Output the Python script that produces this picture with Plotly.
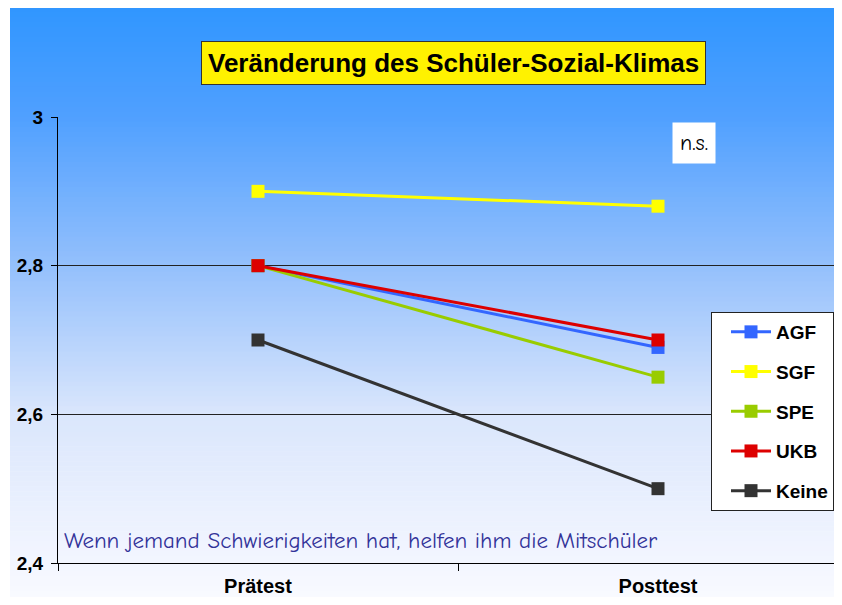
import plotly.graph_objects as go

categories = ["Prätest", "Posttest"]
series_names = ["AGF", "SGF", "SPE", "UKB", "Keine"]
agf = [2.80, 2.69]
sgf = [2.90, 2.88]
spe = [2.80, 2.65]
ukb = [2.80, 2.70]
keine = [2.70, 2.50]
y_ticks = [2.4, 2.6, 2.8, 3.0]

values = [agf, sgf, spe, ukb, keine]
colors = ["#3366FF", "#FFFF00", "#99CC00", "#DD0000", "#333333"]

# page body has an 8px margin; figure sized so the page fits the window
OFF = 8
W, H = 842 - 2 * OFF, 605 - 2 * OFF
ml, mt = 58 - OFF, 117 - OFF
mb = H - (563 - OFF)
mr = 0
pw, ph = W - ml - mr, H - mt - mb


def fx(px):  # reference pixel x -> paper x
    return (px - OFF - ml) / pw


def fy(py):  # reference pixel y -> paper y
    return (H - mb - (py - OFF)) / ph


fig = go.Figure()
for name, vals, col in zip(series_names, values, colors):
    fig.add_trace(go.Scatter(
        x=categories, y=vals, name=name, mode="lines+markers",
        line=dict(color=col, width=3),
        marker=dict(symbol="square", size=13, color=col),
        legendgroup=name,
    ))

# gradient background via stacked strips
stops = [(7, (48, 150, 255)), (117, (80, 160, 255)), (266, (148, 192, 252)),
         (414, (218, 230, 252)), (563, (243, 246, 255)), (605, (250, 251, 255))]


def col_at(y):
    for (y0, c0), (y1, c1) in zip(stops[:-1], stops[1:]):
        if y0 <= y <= y1:
            t = (y - y0) / (y1 - y0)
            return tuple(round(a + (b - a) * t) for a, b in zip(c0, c1))
    return stops[-1][1]


shapes = []
top, bottom = 7, 606
n = 120
step = (bottom - top) / n
for i in range(n):
    y0 = top + i * step
    y1 = min(y0 + step + 0.6, bottom)
    c = col_at(y0 + step / 2)
    shapes.append(dict(
        type="rect", xref="paper", yref="paper",
        x0=fx(10), x1=fx(850),
        y0=fy(y1), y1=fy(y0),
        fillcolor="rgb(%d,%d,%d)" % c, line=dict(width=0), layer="below",
    ))

bold = dict(family="Liberation Sans, Arial", color="black", weight="bold")

fig.update_layout(
    width=W, height=H,
    margin=dict(l=ml, r=mr, t=mt, b=mb, pad=0, autoexpand=False),
    paper_bgcolor="white",
    plot_bgcolor="rgba(0,0,0,0)",
    separators=",.",
    shapes=shapes,
    showlegend=True,
    legend=dict(
        x=fx(711), y=fy(312), xanchor="left", yanchor="top",
        bgcolor="white", bordercolor="#222222", borderwidth=1,
        font=dict(size=19, **bold),
        traceorder="grouped", tracegroupgap=12, itemwidth=40,
        indentation=14,
    ),
    xaxis=dict(
        type="category", range=[-0.5, -0.5 + pw / 400.0],
        showline=True, linecolor="black", linewidth=1,
        ticks="outside", tickson="boundaries", ticklen=7, tickcolor="black",
        showgrid=False, zeroline=False, automargin=False,
        tickfont=dict(size=20, **bold),
        ticklabelstandoff=5,
    ),
    yaxis=dict(
        range=[2.4, 3.0], tickvals=y_ticks,
        showline=True, linecolor="black", linewidth=1,
        ticks="outside", ticklen=6, tickcolor="black",
        showgrid=True, gridcolor="#222222", gridwidth=1, zeroline=False,
        automargin=False,
        tickfont=dict(size=19, **bold),
        ticklabelstandoff=4,
    ),
    annotations=[
        dict(text="Veränderung des Schüler-Sozial-Klimas", xref="paper", yref="paper",
             x=fx(453), y=fy(63), xanchor="center", yanchor="middle",
             showarrow=False, bgcolor="#FFF200", bordercolor="#333333", borderwidth=1,
             borderpad=6,
             font=dict(size=26, **bold)),
        dict(text="n.s.", xref="paper", yref="paper",
             x=fx(694), y=fy(143), xanchor="center", yanchor="middle",
             showarrow=False, bgcolor="white", borderpad=7,
             font=dict(family="Comic Sans MS, Comic Neue, DejaVu Sans", size=22, color="black")),
        dict(text="Wenn jemand Schwierigkeiten hat, helfen ihm die Mitschüler",
             xref="paper", yref="paper",
             x=fx(62), y=fy(540), xanchor="left", yanchor="middle",
             showarrow=False,
             font=dict(family="Comic Sans MS, Comic Neue, DejaVu Sans", size=23, color="#333399")),
    ],
)

fig.write_html("out.html")
